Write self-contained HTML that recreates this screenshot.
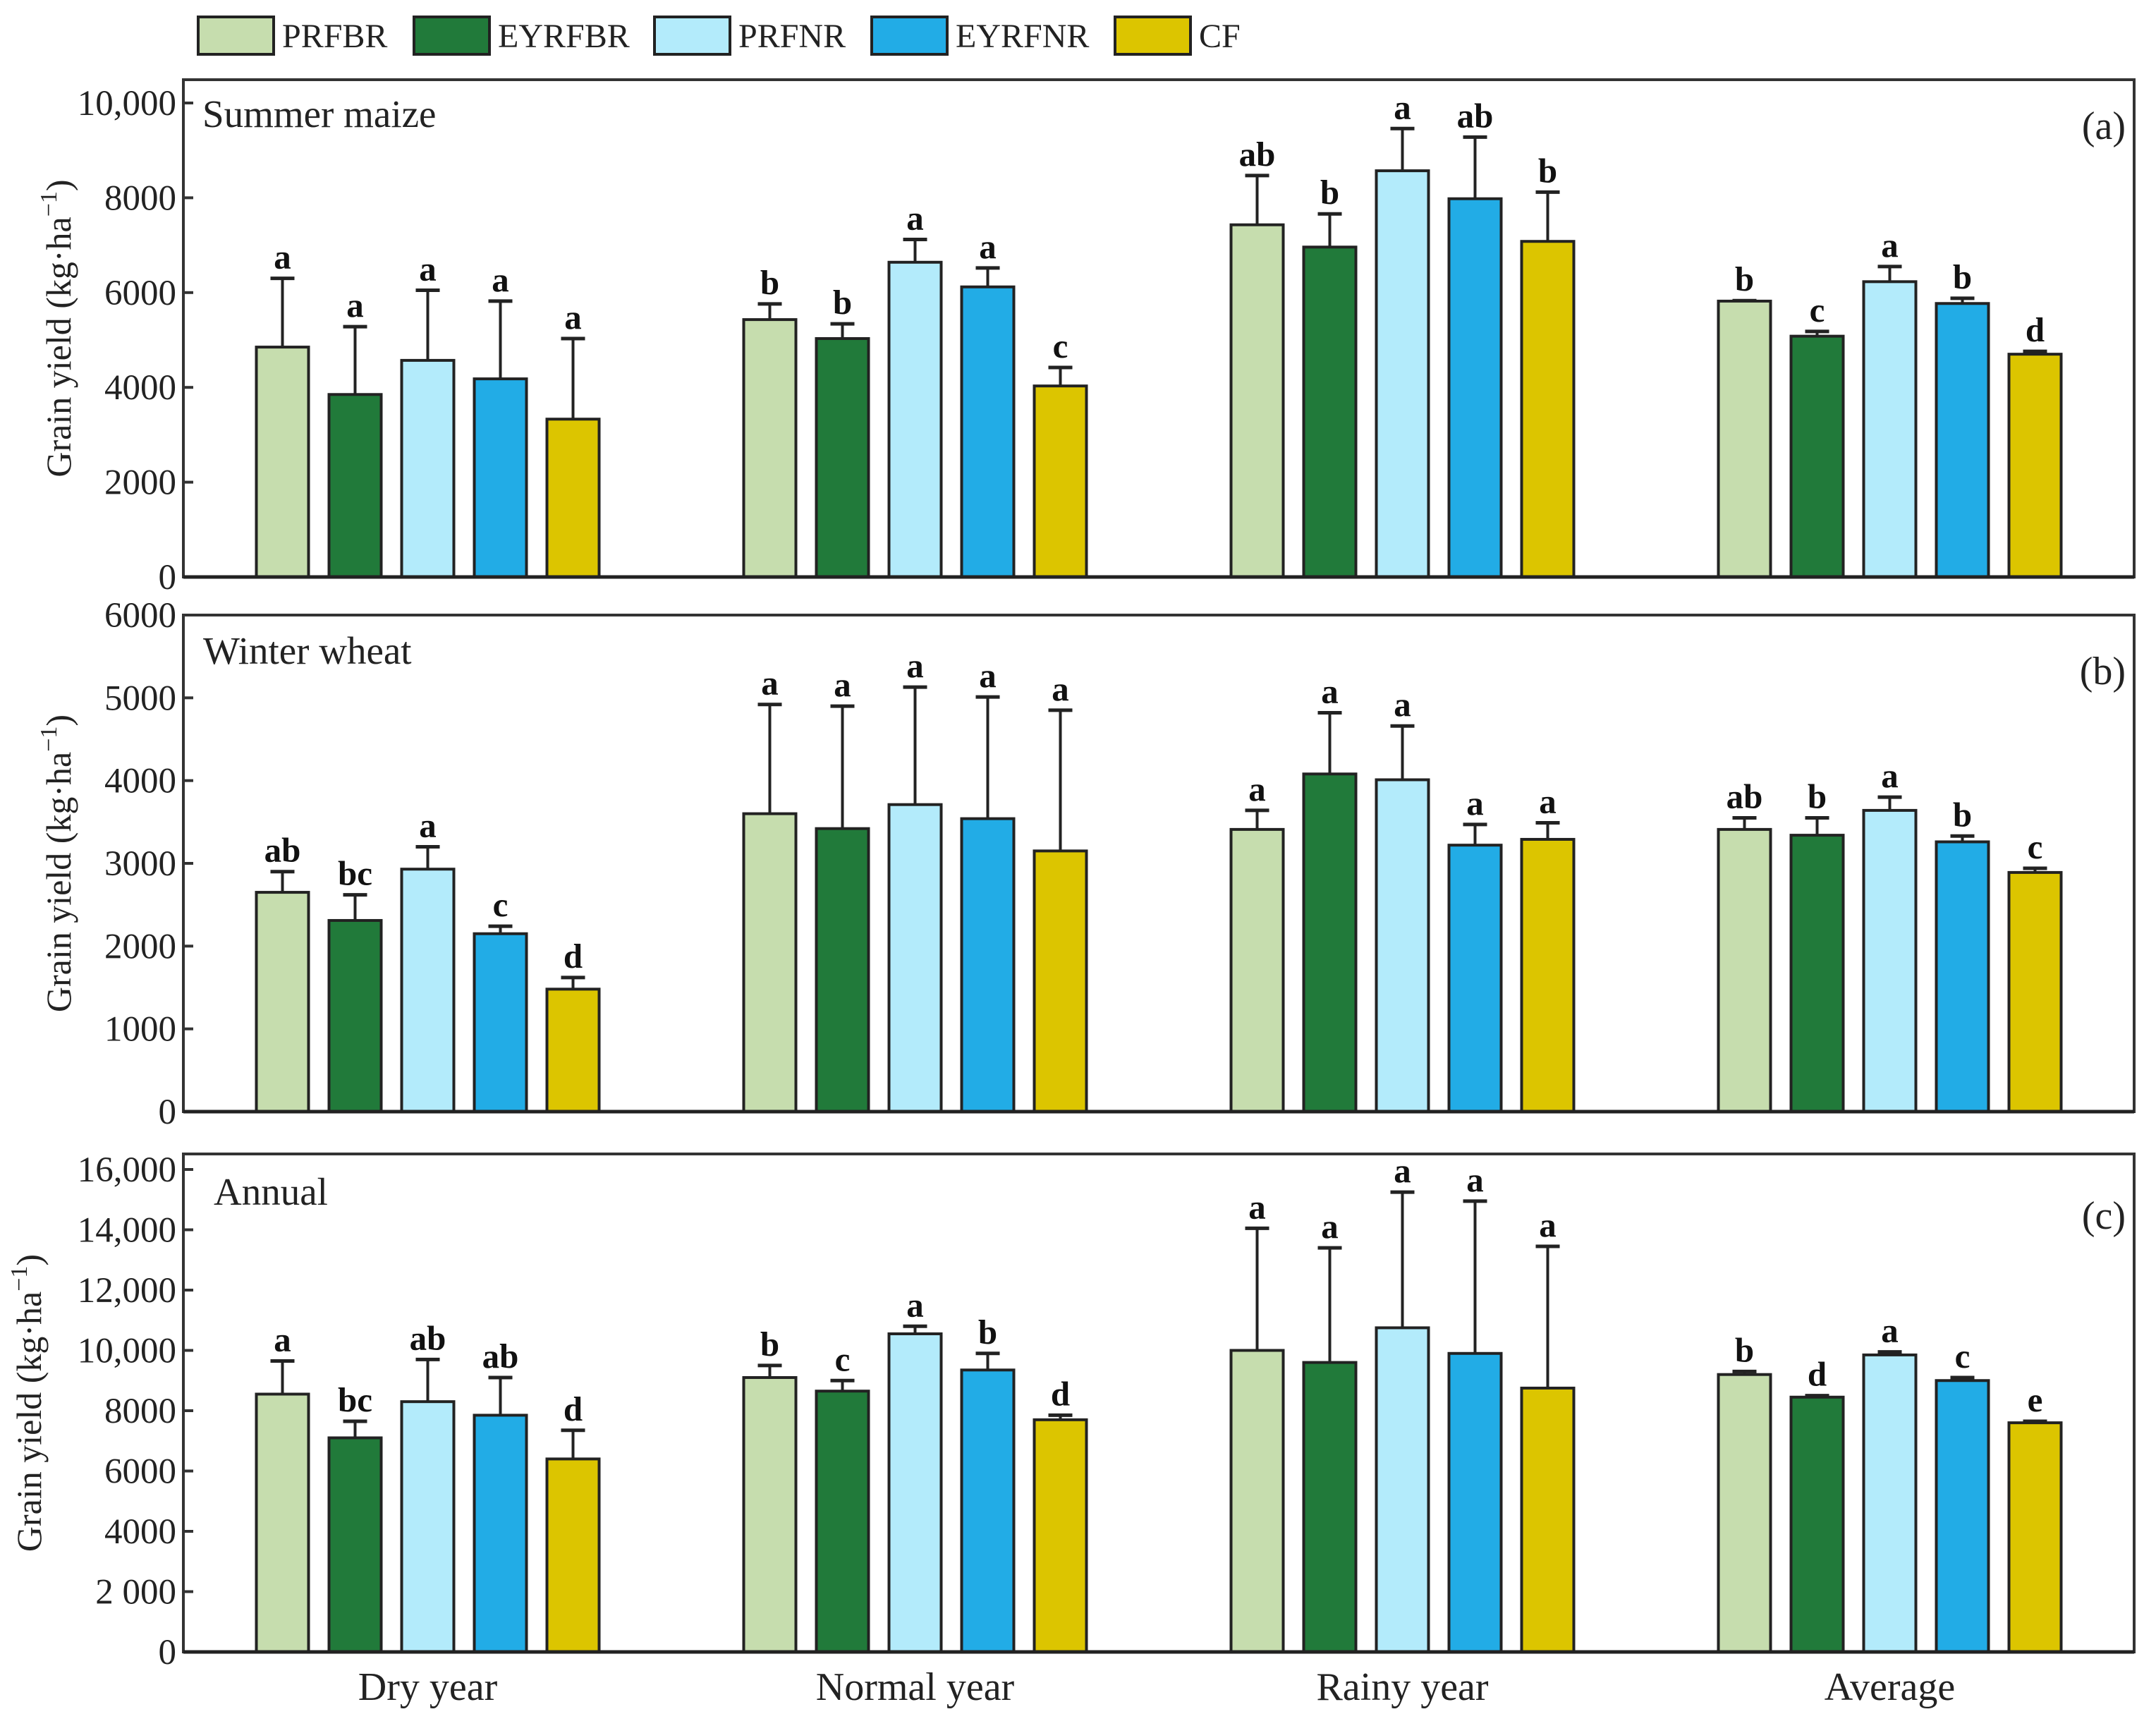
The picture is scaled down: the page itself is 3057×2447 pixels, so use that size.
<!DOCTYPE html>
<html><head><meta charset="utf-8"><style>
html,body{margin:0;padding:0;background:#fff}
svg{display:block;font-family:"Liberation Serif",serif}
</style></head><body>
<svg id="chart" width="3057" height="2447" viewBox="0 0 3057 2447" xmlns="http://www.w3.org/2000/svg"></svg>
<script>
const categories = ["Dry year","Normal year","Rainy year","Average"];
const seriesNames = ["PRFBR","EYRFBR","PRFNR","EYRFNR","CF"];
const colors = ["#c6ddae","#217a3a","#b3ebfb","#22ace6","#dcc500"];
const maizeValues = [[4850,3850,4570,4180,3330],[5430,5030,6640,6120,4030],[7430,6960,8570,7980,7080],[5820,5080,6230,5770,4700]];
const maizeErrTop = [[6300,5280,6050,5820,5030],[5760,5340,7120,6520,4420],[8470,7660,9460,9280,8120],[5830,5180,6550,5880,4760]];
const maizeLetters = [["a","a","a","a","a"],["b","b","a","a","c"],["ab","b","a","ab","b"],["b","c","a","b","d"]];
const wheatValues = [[2650,2310,2930,2150,1480],[3600,3420,3710,3540,3150],[3410,4080,4010,3220,3290],[3410,3340,3640,3260,2890]];
const wheatErrTop = [[2900,2620,3200,2240,1620],[4920,4900,5130,5010,4850],[3640,4820,4660,3470,3490],[3550,3550,3800,3330,2940]];
const wheatLetters = [["ab","bc","a","c","d"],["a","a","a","a","a"],["a","a","a","a","a"],["ab","b","a","b","c"]];
const annualValues = [[8550,7100,8300,7850,6400],[9100,8650,10550,9350,7700],[10000,9600,10750,9900,8750],[9200,8450,9850,9000,7600]];
const annualErrTop = [[9650,7650,9700,9100,7350],[9500,9000,10800,9900,7850],[14050,13400,15250,14950,13450],[9300,8500,9950,9100,7650]];
const annualLetters = [["a","bc","ab","ab","d"],["b","c","a","b","d"],["a","a","a","a","a"],["b","d","a","c","e"]];
const maizeTicks = [0,2000,4000,6000,8000,10000];
const maizeTickLabels = ["0","2000","4000","6000","8000","10,000"];
const wheatTicks = [0,1000,2000,3000,4000,5000,6000];
const wheatTickLabels = ["0","1000","2000","3000","4000","5000","6000"];
const annualTicks = [0,2000,4000,6000,8000,10000,12000,14000,16000];
const annualTickLabels = ["0","2 000","4000","6000","8000","10,000","12,000","14,000","16,000"];

const NS="http://www.w3.org/2000/svg";
const svg=document.getElementById("chart");
function mk(tag,attrs,parent){const e=document.createElementNS(NS,tag);for(const k in attrs)e.setAttribute(k,attrs[k]);(parent||svg).appendChild(e);return e;}
const L=260,R=3026,STROKE="#222";
const groupStart0=363.5, groupStep=691, barPitch=103, barW=74;
function xBar(ci,si){return groupStart0+ci*groupStep+si*barPitch;}

function panel(cfg){
  const g=mk("g",{});
  
  
  const y=v=>cfg.y0-(v/cfg.max)*(cfg.y0-cfg.yMax);
  const frame=mk("rect",{x:L,y:cfg.top,width:R-L,height:cfg.y0-cfg.top,fill:"none",stroke:"#333","stroke-width":4},g);
  
  
  cfg.ticks.forEach((t,i)=>{
    const tk=mk("line",{x1:L,x2:L+14,y1:y(t),y2:y(t),stroke:"#333","stroke-width":4},g);
    
    
    const tl=mk("text",{x:L-10,y:y(t)+17,"text-anchor":"end","font-size":51,fill:"#222"},g);
    tl.textContent=cfg.tickLabels[i];
    
    
  });
  const yc=(cfg.top+cfg.y0)/2;
  const at=mk("text",{x:cfg.titleX,y:yc,"text-anchor":"middle","font-size":50,fill:"#222",transform:`rotate(-90 ${cfg.titleX} ${yc})`},g);
  at.innerHTML='Grain yield (kg·ha<tspan dy="-20" font-size="34">−1</tspan><tspan dy="20">)</tspan>';
  
  
  const pn=mk("text",{x:cfg.nameX,y:cfg.nameY,"font-size":55,fill:"#222"},g);
  pn.textContent=cfg.title;
  
  
  const pl=mk("text",{x:3014,y:cfg.labelY,"text-anchor":"end","font-size":56,fill:"#222"},g);
  pl.textContent=cfg.tag;
  
  
  cfg.values.forEach((row,ci)=>row.forEach((v,si)=>{
    const x=xBar(ci,si), cx=x+barW/2, et=cfg.err[ci][si];
    const el=mk("line",{x1:cx,x2:cx,y1:y(v),y2:y(et),stroke:STROKE,"stroke-width":4},g);
    
    
    const ec=mk("line",{x1:cx-17,x2:cx+17,y1:y(et),y2:y(et),stroke:STROKE,"stroke-width":5},g);
    
    
    const b=mk("rect",{x:x,y:y(v),width:barW,height:cfg.y0-y(v),fill:colors[si],stroke:STROKE,"stroke-width":4},g);
    
    
    const lt=mk("text",{x:cx,y:y(et)-14,"text-anchor":"middle","font-size":49,"font-weight":"bold",fill:"#111"},g);
    lt.textContent=cfg.letters[ci][si];
    
    
  }));
  const base=mk("line",{x1:L,x2:R,y1:cfg.y0,y2:cfg.y0,stroke:"#222","stroke-width":5},g);
  
  
}
panel({name:"summer-maize",title:"Summer maize",tag:"(a)",top:113,y0:818,yMax:146,max:10000,ticks:maizeTicks,tickLabels:maizeTickLabels,values:maizeValues,err:maizeErrTop,letters:maizeLetters,titleX:100,nameX:287,nameY:180,labelY:197});
panel({name:"winter-wheat",title:"Winter wheat",tag:"(b)",top:872,y0:1576,yMax:872,max:6000,ticks:wheatTicks,tickLabels:wheatTickLabels,values:wheatValues,err:wheatErrTop,letters:wheatLetters,titleX:100,nameX:288,nameY:941,labelY:970});
panel({name:"annual",title:"Annual",tag:"(c)",top:1636,y0:2342,yMax:1658,max:16000,ticks:annualTicks,tickLabels:annualTickLabels,values:annualValues,err:annualErrTop,letters:annualLetters,titleX:58,nameX:303,nameY:1708,labelY:1742});

categories.forEach((c,ci)=>{
  const t=mk("text",{x:xBar(ci,2)+barW/2,y:2410,"text-anchor":"middle","font-size":56,fill:"#222"});
  t.textContent=c;
  
  
});
const legendBoxX=[281,587,928,1236,1581];
seriesNames.forEach((n,i)=>{
  const r=mk("rect",{x:legendBoxX[i],y:24,width:107,height:53,fill:colors[i],stroke:"#222","stroke-width":4});
  
  
  const t=mk("text",{x:legendBoxX[i]+119,y:67,"font-size":48,fill:"#222"});
  t.textContent=n;
  
  
});
</script>
</body></html>
